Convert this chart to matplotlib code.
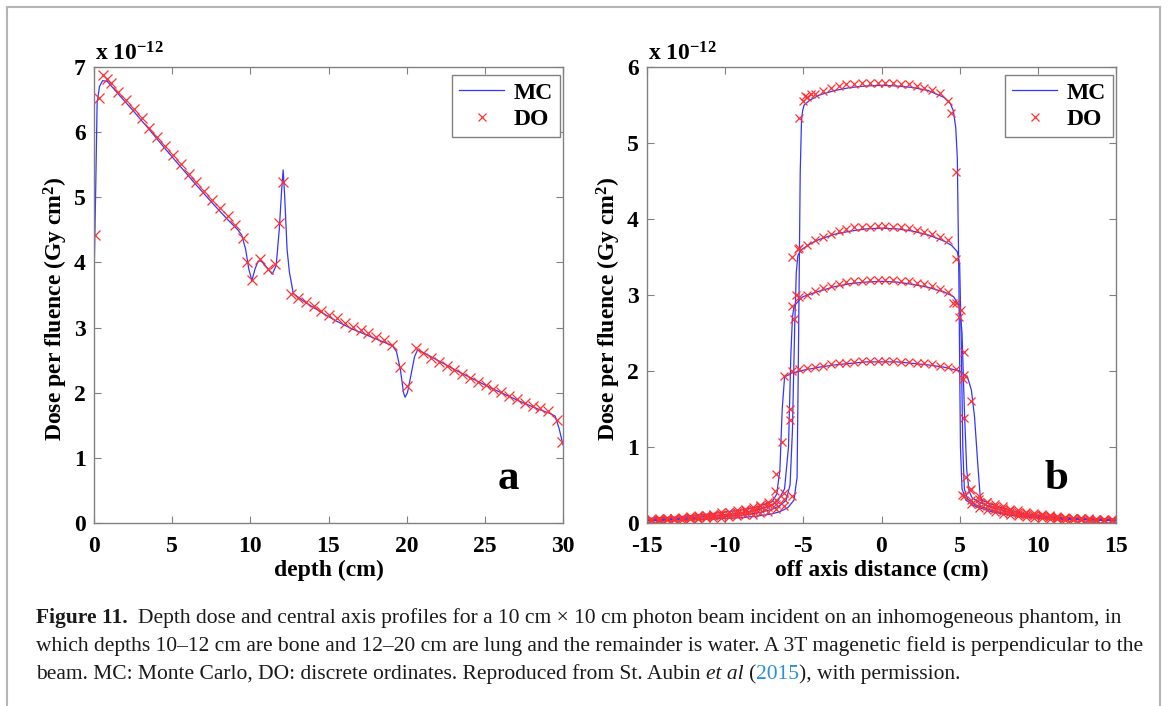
import matplotlib
matplotlib.use('Agg')
import matplotlib.pyplot as plt
from matplotlib.lines import Line2D

W, H = 1168, 706

# ---- panel a: depth dose (units of 1e-12 Gy cm^2) ----
mc_depth = [0.02, 0.1, 0.2, 0.35, 0.55, 0.85, 1.5, 2.5, 3.5, 4.5, 5.5, 6.5, 7.5, 8.5, 9.2,
            9.45, 9.7, 9.9, 10.1, 10.3, 10.5, 10.7, 11.0, 11.4, 11.65, 11.85, 12.0, 12.1, 12.2,
            12.35, 12.5, 12.75, 13.5, 14.5, 15.5, 16.5, 17.5, 18.5, 19.1, 19.35, 19.6, 19.8,
            19.9, 20.05, 20.3, 20.5, 20.7, 21.5, 22.5, 23.5, 24.5, 25.5, 26.5, 27.5, 28.5,
            29.2, 29.5, 29.75, 30.0]
mc_dose = [3.98, 5.0, 6.45, 6.7, 6.79, 6.78, 6.6, 6.33, 6.05, 5.76, 5.48, 5.2, 4.93, 4.67, 4.5,
           4.42, 4.2, 3.9, 3.72, 3.9, 4.02, 4.02, 3.94, 3.82, 3.95, 4.5, 5.1, 5.42, 5.0,
           4.2, 3.85, 3.52, 3.39, 3.24, 3.1, 2.98, 2.88, 2.78, 2.72, 2.63, 2.35, 2.0,
           1.93, 2.0, 2.3, 2.55, 2.66, 2.56, 2.43, 2.3, 2.18, 2.06, 1.95, 1.84, 1.74,
           1.68, 1.64, 1.45, 1.2]

do_depth = [0.05, 0.3, 0.6, 0.85, 1.1, 1.55, 2.05, 2.55, 3.05, 3.55, 4.05, 4.55, 5.05, 5.55,
            6.05, 6.55, 7.05, 7.55, 8.05, 8.55, 9.05, 9.55, 9.8, 10.1, 10.6, 11.1, 11.6, 11.85,
            12.1, 12.6, 13.05, 13.55, 14.05, 14.55, 15.05, 15.55, 16.05, 16.55, 17.05, 17.55,
            18.05, 18.55, 19.05, 19.55, 20.05, 20.6, 21.05, 21.55, 22.05, 22.55, 23.05, 23.55,
            24.05, 24.55, 25.05, 25.55, 26.05, 26.55, 27.05, 27.55, 28.05, 28.55, 29.05, 29.6,
            29.95]
do_dose = [4.42, 6.52, 6.88, 6.82, 6.75, 6.62, 6.49, 6.35, 6.21, 6.07, 5.92, 5.78, 5.65, 5.51,
           5.36, 5.23, 5.09, 4.96, 4.83, 4.71, 4.58, 4.38, 4.0, 3.73, 4.05, 3.90, 3.97, 4.61,
           5.24, 3.51, 3.46, 3.40, 3.33, 3.26, 3.20, 3.14, 3.07, 3.01, 2.96, 2.91,
           2.85, 2.81, 2.74, 2.40, 2.11, 2.69, 2.61, 2.54, 2.47, 2.41, 2.35, 2.28,
           2.23, 2.17, 2.12, 2.06, 2.01, 1.95, 1.90, 1.84, 1.80, 1.76, 1.72, 1.58,
           1.24]

# ---- panel b: off-axis profiles at four depths ----
p1_mc_x = [-15, -13, -11, -9, -8, -7, -6.5, -6, -5.6, -5.4, -5.3, -5.2, -5.12, -5.05, -4.95,
           -4.6, -4, -3, -2, -1, 0, 1, 2, 3, 4, 4.4, 4.6, 4.75, 4.85, 4.95, 5.05, 5.15, 5.4,
           6, 7, 8, 9, 11, 13, 15]
p1_mc_y = [0.03, 0.04, 0.05, 0.07, 0.09, 0.12, 0.15, 0.2, 0.3, 0.6, 2.5, 4.6, 5.28, 5.42, 5.5,
           5.56, 5.63, 5.69, 5.73, 5.75, 5.76, 5.75, 5.73, 5.69, 5.6, 5.52, 5.42, 5.2, 4.8,
           3.2, 1.0, 0.45, 0.3, 0.22, 0.15, 0.11, 0.08, 0.05, 0.04, 0.03]
p2_mc_x = [-15, -13, -11, -9, -8, -7, -6.5, -6.1, -5.85, -5.7, -5.55, -5.45, -5.35, -5.1, -4.5,
           -4, -3, -2, -1, 0, 1, 2, 3, 4, 4.5, 4.85, 5.0, 5.1, 5.2, 5.3, 5.5, 6, 7, 8, 9,
           11, 13, 15]
p2_mc_y = [0.04, 0.05, 0.07, 0.1, 0.13, 0.18, 0.23, 0.3, 0.5, 1.2, 2.6, 3.3, 3.52, 3.6, 3.68,
           3.73, 3.8, 3.84, 3.87, 3.88, 3.87, 3.84, 3.79, 3.71, 3.65, 3.57, 3.4, 2.4, 1.0,
           0.45, 0.32, 0.24, 0.17, 0.12, 0.09, 0.06, 0.05, 0.04]
p3_mc_x = [-15, -13, -11, -9, -8, -7, -6.6, -6.2, -5.95, -5.8, -5.7, -5.6, -5.2, -5, -4, -3,
           -2, -1, 0, 1, 2, 3, 4, 4.6, 5.0, 5.15, 5.3, 5.45, 5.6, 5.8, 6.3, 7, 8, 9, 11,
           13, 15]
p3_mc_y = [0.05, 0.06, 0.09, 0.13, 0.17, 0.23, 0.3, 0.45, 1.0, 2.2, 2.7, 2.85, 2.95, 2.98,
           3.05, 3.11, 3.15, 3.17, 3.18, 3.17, 3.14, 3.1, 3.04, 2.98, 2.85, 2.5, 1.5, 0.7,
           0.42, 0.33, 0.27, 0.21, 0.15, 0.11, 0.07, 0.05, 0.04]
p4_mc_x = [-15, -13, -11, -9, -8, -7, -6.7, -6.5, -6.35, -6.2, -5.8, -5, -4, -3, -2, -1, 0,
           1, 2, 3, 4, 5, 5.5, 5.75, 5.95, 6.15, 6.3, 6.4, 7, 8, 9, 11, 13, 15]
p4_mc_y = [0.06, 0.08, 0.12, 0.17, 0.21, 0.28, 0.38, 0.7, 1.5, 1.92, 1.97, 2.01, 2.05, 2.08,
           2.1, 2.12, 2.12, 2.12, 2.1, 2.08, 2.05, 2.0, 1.92, 1.75, 1.4, 0.8, 0.38, 0.3,
           0.25, 0.18, 0.13, 0.08, 0.06, 0.05]

do_x = [-14.75, -14.25, -13.75, -13.25, -12.75, -12.25, -11.75, -11.25, -10.75, -10.25,
        -9.75, -9.25, -8.75, -8.25, -7.75, -7.25, -6.75, -6.25, -5.75, -5.25,
        -4.75, -4.25, -3.75, -3.25, -2.75, -2.25, -1.75, -1.25, -0.75, -0.25,
        0.25, 0.75, 1.25, 1.75, 2.25, 2.75, 3.25, 3.75, 4.25, 4.75,
        5.25, 5.75, 6.25, 6.75, 7.25, 7.75, 8.25, 8.75, 9.25, 9.75,
        10.25, 10.75, 11.25, 11.75, 12.25, 12.75, 13.25, 13.75, 14.25, 14.75]
p1_do = [0.03, 0.03, 0.04, 0.04, 0.04, 0.05, 0.05, 0.06, 0.06, 0.07,
         0.08, 0.09, 0.10, 0.11, 0.13, 0.15, 0.18, 0.22, 0.35, 5.33,
         5.60, 5.65, 5.69, 5.72, 5.75, 5.77, 5.78, 5.79, 5.79, 5.79,
         5.79, 5.79, 5.78, 5.77, 5.75, 5.73, 5.70, 5.66, 5.55, 4.62,
         0.35, 0.25, 0.20, 0.17, 0.14, 0.12, 0.10, 0.09, 0.08, 0.07,
         0.06, 0.05, 0.05, 0.04, 0.04, 0.04, 0.03, 0.03, 0.03, 0.03]
p2_do = [0.04, 0.04, 0.05, 0.05, 0.06, 0.06, 0.07, 0.08, 0.09, 0.10,
         0.11, 0.12, 0.14, 0.16, 0.18, 0.21, 0.25, 0.32, 3.50, 3.62,
         3.66, 3.72, 3.76, 3.80, 3.84, 3.87, 3.89, 3.90, 3.90, 3.91,
         3.91, 3.90, 3.90, 3.88, 3.86, 3.83, 3.80, 3.76, 3.72, 3.48,
         1.38, 0.30, 0.25, 0.22, 0.19, 0.16, 0.14, 0.12, 0.11, 0.10,
         0.09, 0.08, 0.07, 0.06, 0.06, 0.05, 0.05, 0.04, 0.04, 0.04]
p3_do = [0.05, 0.05, 0.06, 0.06, 0.07, 0.08, 0.09, 0.10, 0.11, 0.12,
         0.14, 0.15, 0.17, 0.19, 0.22, 0.25, 0.30, 0.40, 2.85, 2.98,
         3.00, 3.05, 3.09, 3.12, 3.15, 3.17, 3.18, 3.19, 3.20, 3.20,
         3.20, 3.20, 3.19, 3.18, 3.16, 3.14, 3.12, 3.08, 3.04, 2.90,
         2.25, 0.45, 0.32, 0.27, 0.23, 0.20, 0.17, 0.15, 0.13, 0.11,
         0.10, 0.09, 0.08, 0.07, 0.06, 0.06, 0.05, 0.05, 0.04, 0.04]
p4_do = [0.05, 0.06, 0.06, 0.07, 0.08, 0.09, 0.10, 0.11, 0.12, 0.14,
         0.15, 0.17, 0.19, 0.21, 0.24, 0.28, 0.65, 1.93, 2.00, 2.02,
         2.04, 2.05, 2.07, 2.09, 2.10, 2.11, 2.12, 2.13, 2.13, 2.13,
         2.13, 2.13, 2.12, 2.12, 2.11, 2.10, 2.09, 2.07, 2.05, 2.03,
         1.95, 1.60, 0.35, 0.28, 0.25, 0.22, 0.19, 0.17, 0.15, 0.13,
         0.12, 0.10, 0.09, 0.08, 0.07, 0.07, 0.06, 0.05, 0.05, 0.05]
# extra DO points in the penumbra regions
edge_x = [-6.82, -6.38, -5.83, -5.83, -5.59, -5.45, -5.35, -5.05, -4.9, -4.5,
          4.45, 4.6, 4.97, 5.09, 5.16, 5.2, 5.4, 5.69]
edge_y = [0.42, 1.07, 1.50, 1.35, 2.68, 3.0, 3.60, 5.55, 5.62, 5.64,
          5.40, 2.90, 2.71, 2.80, 0.37, 1.90, 0.61, 0.44]

caption = [
    [("Figure 11.", {'weight': 'bold'}, 2),
     ("Depth dose and central axis profiles for a 10 cm \u00d7 10 cm photon beam incident on an "
      "inhomogeneous phantom, in", {}, 0)],
    [("which depths 10\u201312 cm are bone and 12\u201320 cm are lung and the remainder is water. "
      "A 3T magenetic field is perpendicular to the", {}, 0)],
    [("beam. MC: Monte Carlo, DO: discrete ordinates. Reproduced from St. Aubin", {}, 1),
     ("et al", {'style': 'italic'}, 1),
     ("(", {}, 0), ("2015", {'color': '#2a8fd6'}, 0), ("), with permission.", {}, 0)],
]

MC_COL = '#3535ff'
DO_COL = '#ff3030'
GRAY = '#808080'

plt.rcParams['font.family'] = 'Liberation Serif'
plt.rcParams['font.weight'] = 'bold'
plt.rcParams['axes.unicode_minus'] = False
plt.rcParams['mathtext.fontset'] = 'custom'
plt.rcParams['mathtext.rm'] = 'Liberation Serif:bold'
plt.rcParams['mathtext.it'] = 'Liberation Serif:bold'
plt.rcParams['mathtext.bf'] = 'Liberation Serif:bold'

fig = plt.figure(figsize=(W / 100, H / 100), dpi=100)

ax1 = fig.add_axes([94 / W, 1 - 523 / H, 469 / W, 456 / H])
ax2 = fig.add_axes([647 / W, 1 - 523 / H, 469 / W, 456 / H])

ax1.plot(mc_depth, mc_dose, color=MC_COL, lw=0.9, label='MC')
ax1.plot(do_depth, do_dose, 'x', color=DO_COL, ms=6.5, mew=0.9, label='DO')

for xs, ys in [(p1_mc_x, p1_mc_y), (p2_mc_x, p2_mc_y), (p3_mc_x, p3_mc_y), (p4_mc_x, p4_mc_y)]:
    ax2.plot(xs, ys, color=MC_COL, lw=0.9)
for ys in [p1_do, p2_do, p3_do, p4_do]:
    ax2.plot(do_x, ys, 'x', color=DO_COL, ms=6, mew=0.9)
ax2.plot(edge_x, edge_y, 'x', color=DO_COL, ms=6, mew=0.9)

ax1.set_xlim(0, 30)
ax1.set_ylim(0, 7)
ax1.set_xticks(range(0, 31, 5))
ax1.set_yticks(range(0, 8))
ax2.set_xlim(-15, 15)
ax2.set_ylim(0, 6)
ax2.set_xticks(range(-15, 16, 5))
ax2.set_yticks(range(0, 7))

mc_handle = Line2D([], [], color=MC_COL, lw=0.9)
do_handle = Line2D([], [], ls='none', marker='x', color=DO_COL, ms=6, mew=0.9)

for ax, xl, letter, lx in [(ax1, 'depth (cm)', 'a', 0.883), (ax2, 'off axis distance (cm)', 'b', 0.874)]:
    for s in ax.spines.values():
        s.set_color(GRAY)
        s.set_linewidth(1)
    ax.tick_params(direction='in', top=True, right=True, length=5, width=0.8, color=GRAY,
                   labelsize=17)
    ax.tick_params(axis='x', pad=9)
    ax.tick_params(axis='y', pad=6)
    ax.set_xlabel(xl, fontsize=17, fontweight='bold')
    ax.set_ylabel('Dose per fluence (Gy cm$^2$)', fontsize=17, fontweight='bold')
    ax.xaxis.set_label_coords(0.5, -0.08)
    ax.yaxis.set_label_coords(-0.052, 0.47)
    ax.text(0.003, 1.015, 'x 10$^{-12}$', transform=ax.transAxes, fontsize=17,
            fontweight='bold', va='baseline', ha='left')
    ax.text(lx, 0.075, letter, transform=ax.transAxes, fontsize=31, fontweight='bold',
            va='baseline', ha='center')
    leg = ax.legend([mc_handle, do_handle], ['MC', 'DO'], loc='upper right',
                    bbox_to_anchor=(1 - 3 / 469, 1 - 8 / 456), borderaxespad=0,
                    fontsize=17, handlelength=1.9, handletextpad=0.4, borderpad=0.3,
                    labelspacing=0.2, fancybox=False, framealpha=1)
    leg.get_frame().set_edgecolor(GRAY)
    leg.get_frame().set_linewidth(1)

# light gray frame around the figure
fcol = '#b5b5b5'
fig.add_artist(Line2D([7 / W, 7 / W], [0, 1 - 7 / H], color=fcol, lw=1.5, transform=fig.transFigure))
fig.add_artist(Line2D([7 / W, 1160 / W], [1 - 7 / H, 1 - 7 / H], color=fcol, lw=1.5, transform=fig.transFigure))
fig.add_artist(Line2D([1160 / W, 1160 / W], [0, 1 - 7 / H], color=fcol, lw=1.5, transform=fig.transFigure))

# caption with mixed styles
r = fig.canvas.get_renderer()
CAP_FS = 15.5


def text_w(s, **kw):
    t = fig.text(0, 0, s, fontsize=CAP_FS, family='Liberation Serif', weight='normal', **kw)
    w = t.get_window_extent(renderer=r).width
    t.remove()
    return w


space_w = text_w('a a') - text_w('aa')
for i, line in enumerate(caption):
    x = 36
    y = 623 + i * 28
    for txt, kw, gap in line:
        props = {'weight': 'normal', 'color': '#1a1a1a'}
        props.update(kw)
        t = fig.text(x / W, 1 - y / H, txt, fontsize=CAP_FS, family='Liberation Serif',
                     va='baseline', ha='left', **props)
        x += t.get_window_extent(renderer=r).width + gap * space_w

fig.savefig('out.png', dpi=100)
